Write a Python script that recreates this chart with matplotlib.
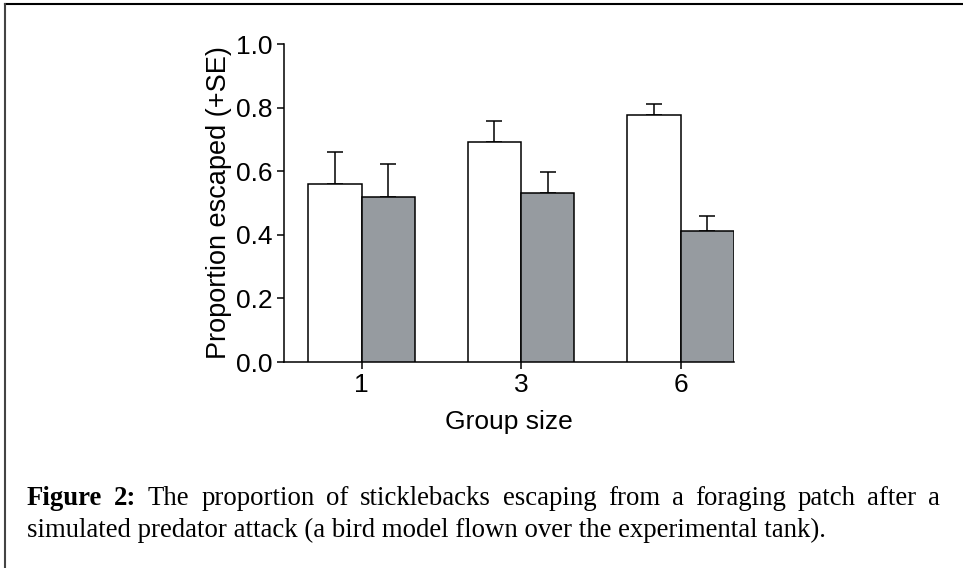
import matplotlib
matplotlib.use("Agg")
import matplotlib.pyplot as plt
import numpy as np

# data
group_sizes = ["1", "3", "6"]
white_means = [0.561, 0.693, 0.778]
white_se = [0.100, 0.066, 0.034]
grey_means = [0.519, 0.533, 0.412]
grey_se = [0.103, 0.065, 0.048]

caption_line1 = [("Figure", True), ("2:", True), ("The", False), ("proportion", False),
                 ("of", False), ("sticklebacks", False), ("escaping", False), ("from", False),
                 ("a", False), ("foraging", False), ("patch", False), ("after", False), ("a", False)]
caption_line2 = "simulated predator attack (a bird model flown over the experimental tank)."

W, H = 963, 568
fig = plt.figure(figsize=(W / 100, H / 100), dpi=100)
plt.rcParams["font.family"] = "Liberation Sans"

ax = fig.add_axes([284 / W, 1 - 362 / H, (734 - 284) / W, (362 - 44) / H])

x = np.arange(len(group_sizes))
bw = 1 / 3
ax.bar(x - bw, white_means, width=bw, align="edge", color="white", edgecolor="black",
       linewidth=1.1, zorder=3)
ax.bar(x, grey_means, width=bw, align="edge", color="#969ba0", edgecolor="black",
       linewidth=1.1, zorder=3)
ax.errorbar(x - bw / 2, white_means, yerr=[np.zeros(3), white_se], fmt="none", ecolor="black",
            elinewidth=1.1, capsize=6, capthick=1.1, zorder=2)
ax.errorbar(x + bw / 2, grey_means, yerr=[np.zeros(3), grey_se], fmt="none", ecolor="black",
            elinewidth=1.1, capsize=6, capthick=1.1, zorder=2)

ax.set_xlim(-0.486, 2.335)
ax.set_ylim(0, 1.0)
ax.set_yticks([0, 0.2, 0.4, 0.6, 0.8, 1.0])
ax.set_yticklabels(["0.0", "0.2", "0.4", "0.6", "0.8", "1.0"])
ax.set_xticks(x)
ax.set_xticklabels(group_sizes)
ax.spines["top"].set_visible(False)
ax.spines["right"].set_visible(False)
for s in ["left", "bottom"]:
    ax.spines[s].set_linewidth(1.1)
ax.tick_params(labelsize=19, width=1.1, length=5, pad=3)
ax.set_ylabel("Proportion escaped (+SE)", fontsize=19.5, labelpad=3)
ax.set_xlabel("Group size", fontsize=19, labelpad=9)

# frame: top and left lines only
fig.add_artist(plt.Line2D([5 / W, 1], [1 - 4 / H, 1 - 4 / H], color="black", lw=1.5))
fig.add_artist(plt.Line2D([5 / W, 5 / W], [0, 1 - 4 / H], color="#444444", lw=1.5))

# caption, justified first line
renderer = fig.canvas.get_renderer()
cap_font = "Liberation Serif"
probe = fig.text(0, 0, caption_line2, fontsize=10, family=cap_font)
w10 = probe.get_window_extent(renderer).width
probe.remove()
cap_size = 10 * 798 / w10

x_left, x_right = 27, 940
y1, y2 = 505, 537
words = []
total = 0
for word, bold in caption_line1:
    t = fig.text(0, 1 - y1 / H, word, fontsize=cap_size, family=cap_font,
                 weight="bold" if bold else "normal", va="baseline")
    wd = t.get_window_extent(renderer).width
    words.append((t, wd))
    total += wd
gap = (x_right - x_left - total) / (len(words) - 1)
pos = x_left
for t, wd in words:
    t.set_x(pos / W)
    pos += wd + gap
fig.text(x_left / W, 1 - y2 / H, caption_line2, fontsize=cap_size, family=cap_font,
         va="baseline")

fig.savefig("out.png", dpi=100)
